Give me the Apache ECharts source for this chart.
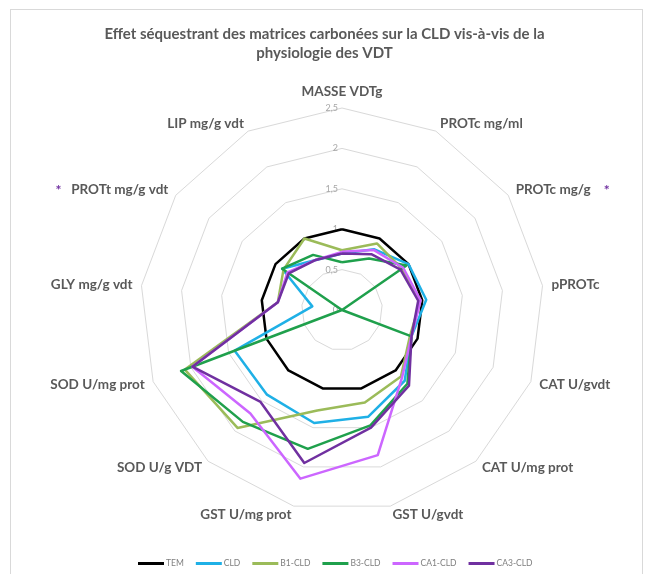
<!DOCTYPE html>
<html>
<head>
<meta charset="utf-8">
<script src="https://cdn.jsdelivr.net/npm/echarts@6/dist/echarts.min.js"></script>
<style>
  html, body { margin: 0; padding: 0; background: #fff; }
  #chart { width: 649px; height: 574px; }
  #frame { position: absolute; left: 10px; top: 9px; width: 631px; height: 600px;
           border: 1px solid #d9d9d9; pointer-events: none; }
</style>
</head>
<body>
<div id="chart"></div>
<div id="frame"></div>
<script>
// Radar axes, listed clockwise from the top
const axes = [
  'MASSE VDTg', 'PROTc mg/ml', 'PROTc mg/g', 'pPROTc', 'CAT U/gvdt', 'CAT U/mg prot',
  'GST U/gvdt', 'GST U/mg prot', 'SOD U/g VDT', 'SOD U/mg prot', 'GLY mg/g vdt',
  'PROTt mg/g vdt', 'LIP mg/g vdt'
];
// Axes flagged with a significance star
const starred = ['PROTc mg/g', 'PROTt mg/g vdt'];

// Values relative to the control (TEM = 1), same order as the axes
const TEM    = [1, 1, 1, 1, 1, 1, 1, 1, 1, 1, 1, 1, 1];
const CLD    = [0.70, 0.85, 1.00, 1.05, 0.92, 1.17, 1.36, 1.44, 1.40, 1.42, 0.37, 0.90, 0.70];
const B1_CLD = [0.74, 0.93, 0.90, 0.98, 0.90, 1.10, 1.18, 1.28, 1.95, 2.08, 0.80, 0.88, 1.00];
const B3_CLD = [0.59, 0.72, 0.97, 0.00, 0.92, 1.22, 1.47, 1.77, 1.85, 2.13, 0.00, 0.90, 0.77];
const CA1_CLD = [0.72, 0.84, 0.92, 0.98, 0.92, 1.12, 1.85, 2.15, 1.71, 1.98, 0.80, 0.82, 0.70];
const CA3_CLD = [0.70, 0.78, 0.88, 0.95, 0.92, 1.25, 1.50, 1.95, 1.52, 1.98, 0.80, 0.80, 0.70];

const seriesNames = ['TEM', 'CLD', 'B1-CLD', 'B3-CLD', 'CA1-CLD', 'CA3-CLD'];
const seriesValues = [TEM, CLD, B1_CLD, B3_CLD, CA1_CLD, CA3_CLD];
const seriesColors = ['#000000', '#1fb0e6', '#9bbb59', '#1fa04c', '#cc66ff', '#7030a0'];

const axisMax = 2.5;
const FONT = 'Lato, "Liberation Sans", sans-serif';

// ECharts lays radar indicators out counter-clockwise; reverse to run clockwise
const order = [0].concat(axes.map((_, i) => i).slice(1).reverse());

const indicator = order.map((i, k) => {
  const ind = { name: axes[i], min: 0, max: axisMax };
  if (k === 0) {
    ind.axisLabel = {
      show: true, color: '#a6a6a6', fontSize: 9, fontFamily: FONT, margin: 4,
      formatter: v => String(v).replace('.', ',')
    };
  }
  return ind;
});

const chart = echarts.init(document.getElementById('chart'), null, { renderer: 'canvas' });

chart.setOption({
  backgroundColor: '#ffffff',
  animation: false,
  color: seriesColors,
  title: {
    text: 'Effet séquestrant des matrices carbonées sur la CLD vis-à-vis de la\nphysiologie des VDT',
    left: 'center',
    top: 20,
    textStyle: { color: '#595959', fontSize: 15, fontWeight: 'bold', fontFamily: FONT, lineHeight: 19 }
  },
  legend: {
    bottom: 6,
    left: 138,
    padding: 0,
    icon: 'rect',
    itemWidth: 26,
    itemHeight: 3,
    itemGap: 12,
    textStyle: { color: '#7f7f7f', fontSize: 8.5, fontFamily: FONT, padding: [0, 0, 0, -3] },
    data: seriesNames
  },
  radar: {
    center: [342, 310],
    radius: 202,
    shape: 'polygon',
    splitNumber: 5,
    startAngle: 90,
    nameGap: 9,
    axisName: {
      color: '#595959',
      fontSize: 13.5,
      fontWeight: 'bold',
      fontFamily: FONT,
      formatter: name => starred.includes(name)
        ? (name === 'PROTt mg/g vdt' ? '{s|*}   ' + name : name + '    {s|*}')
        : name,
      rich: { s: { color: '#7030a0', fontSize: 14, fontWeight: 'bold' } }
    },
    axisLine: { show: false },
    axisTick: { show: false },
    axisLabel: { show: false },
    splitLine: { lineStyle: { color: '#d9d9d9', width: 1 } },
    splitArea: { show: false },
    indicator: indicator
  },
  series: [{
    type: 'radar',
    symbol: 'none',
    data: seriesNames.map((name, s) => ({
      name: name,
      value: order.map(i => seriesValues[s][i]),
      lineStyle: { width: 2.5, color: seriesColors[s] },
      itemStyle: { color: seriesColors[s] }
    }))
  }]
});
</script>
</body>
</html>
